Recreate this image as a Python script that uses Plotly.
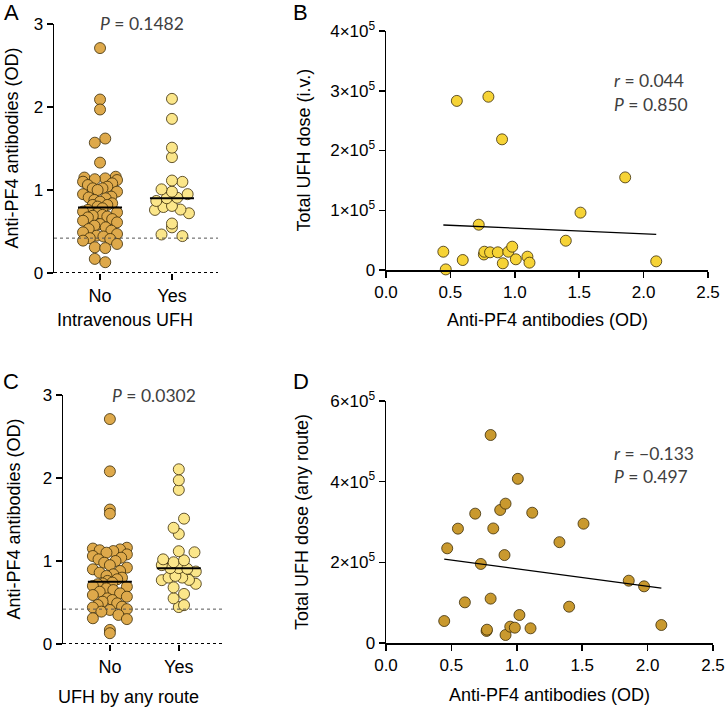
import numpy as np
import plotly.graph_objects as go

W, H = 727, 709

# ---------------- data ----------------
groups = ["No", "Yes"]

# Panel A: Intravenous UFH (No / Yes) anti-PF4 OD
od_no_iv = [2.71, 2.09, 1.97, 1.62, 1.57, 1.33,
            1.16, 1.15, 1.14, 1.13, 1.12, 1.10, 1.08, 1.06, 1.04, 1.02, 1.02, 1.00,
            0.98, 0.95, 0.92, 0.91, 0.90, 0.88, 0.86,
            0.84, 0.82, 0.82, 0.80, 0.78, 0.76, 0.74, 0.73, 0.72, 0.70,
            0.69, 0.68, 0.67, 0.65, 0.63, 0.61, 0.59, 0.57, 0.55,
            0.53, 0.51, 0.49, 0.47, 0.45, 0.44, 0.42, 0.41,
            0.39, 0.35, 0.31, 0.30, 0.17, 0.13]
od_yes_iv = [0.445, 0.464, 0.55, 0.596, 0.72, 0.76, 0.764, 0.795, 0.808, 0.868, 0.901,
             0.907, 0.95, 0.98, 1.008, 1.098, 1.114, 1.396, 1.51, 1.857, 2.098]
dose_iv = [30600, 1000, 283000, 16700, 75800, 26000, 30600, 290000, 29600, 29600, 218700,
           11200, 30600, 39000, 17900, 22300, 12300, 49000, 96000, 155000, 14500]

# Panel C: UFH by any route (No / Yes)
od_no_any = [2.71, 2.08, 1.62, 1.57,
             1.16, 1.15, 1.14, 1.13, 1.12, 1.10, 1.08, 1.06, 1.04, 1.02, 1.00,
             0.98, 0.95, 0.92, 0.90, 0.88, 0.86,
             0.84, 0.82, 0.80, 0.78, 0.76, 0.74, 0.73, 0.72, 0.70,
             0.69, 0.67, 0.65, 0.63, 0.61, 0.59, 0.57, 0.55,
             0.53, 0.51, 0.49, 0.47, 0.45, 0.44, 0.42, 0.41,
             0.39, 0.35, 0.31, 0.30, 0.17, 0.13]
od_yes_any = [0.445, 0.468, 0.55, 0.603, 0.682, 0.725, 0.769, 0.772, 0.80, 0.80, 0.82,
              0.873, 0.914, 0.906, 0.914, 0.95, 0.985, 1.008, 1.02, 1.105, 1.118,
              1.326, 1.40, 1.51, 1.856, 1.973, 2.105]
dose_any = [54500, 234800, 283500, 100800, 320700, 196000, 29800, 33000, 515700, 110000, 284000,
            329800, 345500, 218000, 19800, 40500, 38000, 407000, 69400, 36400, 323000,
            250000, 90000, 295800, 154500, 140500, 44600]

# linear fits (intercept, slope)
fit_iv = (79500, -9430)
fit_any = (227300, -43300)

threshold_od = 0.42
p_iv, p_any = "0.1482", "0.0302"
r_iv, rp_iv = "0.044", "0.850"
r_any, rp_any = "\u22120.133", "0.497"

dose_ticks_iv = [0, 1e5, 2e5, 3e5, 4e5]
dose_ticks_any = [0, 2e5, 4e5, 6e5]
od_ticks = [0.0, 0.5, 1.0, 1.5, 2.0, 2.5]

# ---------------- colours ----------------
c_no = "#DEA94B"
c_yes = "#FBE68A"
c_b = "#F6D336"
c_d = "#C9992E"
c_edge = "#3b2c08"
txt = "#404040"
FONT = "Liberation Sans"
SFONT = "Lato"

# ---------------- layout boxes (pixels) ----------------
boxA = (54, 218, 24, 273)
boxB = (386, 708, 31, 270)
boxC = (63, 225, 395, 644)
boxD = (386, 713, 401, 643)


def dom(box):
    x0, x1, y0, y1 = box
    return [x0 / W, x1 / W], [1 - y1 / H, 1 - y0 / H]


def swarm_offsets(vals, ppu_y, dia=11.0, maxhalf=17.0):
    v = np.asarray(vals, float)
    med = np.median(v)
    h = dia / ppu_y
    k = np.round((v - med) / h)
    off = np.zeros(len(v))
    for b in np.unique(k):
        idx = np.where(k == b)[0]
        idx = idx[np.argsort(np.abs(v[idx] - med), kind="stable")]
        n = len(idx)
        if n == 1:
            continue
        s = min(0.95 * dia, 2 * maxhalf / (n - 1))
        if n % 2:
            slots = [0.0] + [sg * j * s for j in range(1, n // 2 + 1) for sg in (-1, 1)]
        else:
            slots = [sg * (j + 0.5) * s for j in range(n // 2) for sg in (-1, 1)]
        off[idx] = slots[:n]
    return off


fig = go.Figure()

axis_common = dict(showline=True, linecolor="black", linewidth=1.5, ticks="outside",
                   ticklen=6, tickwidth=1.5, tickcolor="black", showgrid=False,
                   zeroline=False, tickfont=dict(family=FONT, size=17, color="black"),
                   fixedrange=True, automargin=False)


def dot_panel(box, xa, ya, no_vals, yes_vals, xr):
    x0, x1, y0, y1 = box
    ppu_x = (x1 - x0) / (xr[1] - xr[0])
    ppu_y = (y1 - y0) / 3.0
    for gi, (vals, col) in enumerate([(no_vals, c_no), (yes_vals, c_yes)]):
        off = swarm_offsets(vals, ppu_y)
        xs = gi + off / ppu_x
        fig.add_trace(go.Scatter(x=xs, y=vals, mode="markers", xaxis=xa, yaxis=ya,
                                 marker=dict(size=11, color=col,
                                             line=dict(color=c_edge, width=0.8)),
                                 cliponaxis=False, showlegend=False, hoverinfo="y"))
    for gi, vals in enumerate([no_vals, yes_vals]):
        m = float(np.median(vals))
        hw = 22 / ppu_x
        fig.add_trace(go.Scatter(x=[gi - hw, gi + hw], y=[m, m], mode="lines",
                                 xaxis=xa, yaxis=ya, line=dict(color="black", width=2),
                                 showlegend=False, hoverinfo="skip"))


def scatter_panel(xa, ya, od, dose, col, fit):
    fig.add_trace(go.Scatter(x=od, y=dose, mode="markers", xaxis=xa, yaxis=ya,
                             marker=dict(size=11, color=col, line=dict(color=c_edge, width=0.8)),
                             cliponaxis=False, showlegend=False))
    xl = [min(od), max(od)]
    yl = [fit[0] + fit[1] * x for x in xl]
    fig.add_trace(go.Scatter(x=xl, y=yl, mode="lines", xaxis=xa, yaxis=ya,
                             line=dict(color="black", width=1.3), showlegend=False,
                             hoverinfo="skip"))


xrA = [-0.64, 1.64]
xrC = [-0.68, 1.67]
dot_panel(boxA, "x", "y", od_no_iv, od_yes_iv, xrA)
scatter_panel("x2", "y2", od_yes_iv, dose_iv, c_b, fit_iv)
dot_panel(boxC, "x3", "y3", od_no_any, od_yes_any, xrC)
scatter_panel("x4", "y4", od_yes_any, dose_any, c_d, fit_any)


def sup_label(v):
    if v == 0:
        return "0"
    e = int(np.floor(np.log10(v)))
    m = int(round(v / 10 ** e))
    return f"{m}\u00d710<sup>{e}</sup>"


layout = dict(width=W, height=H, margin=dict(l=0, r=0, t=0, b=0, autoexpand=False),
              plot_bgcolor="white", paper_bgcolor="white", showlegend=False)

for i, (box, kind) in enumerate([(boxA, "dot"), (boxB, "sc"), (boxC, "dot"), (boxD, "sc")], start=1):
    dx, dy = dom(box)
    sx = "" if i == 1 else str(i)
    xa = dict(axis_common, domain=dx, anchor="y" + sx)
    ya = dict(axis_common, domain=dy, anchor="x" + sx)
    if kind == "dot":
        xa.update(range=xrA if i == 1 else xrC, tickvals=[0, 1], ticktext=groups, showline=False,
                  tickfont=dict(family=FONT, size=18, color="black"))
        ya.update(range=[0, 3], tickvals=[0, 1, 2, 3])
    else:
        ticks = dose_ticks_iv if i == 2 else dose_ticks_any
        xa.update(range=[0, 2.5], tickvals=od_ticks, ticktext=[f"{t:.1f}" for t in od_ticks])
        ya.update(range=[0, ticks[-1]], tickvals=ticks, ticktext=[sup_label(t) for t in ticks])
    layout["xaxis" + sx] = xa
    layout["yaxis" + sx] = ya

fig.update_layout(**layout)

# dotted baselines & threshold lines on dot panels
for xa, ya in [("x", "y"), ("x3", "y3")]:
    fig.add_shape(type="line", xref=f"{xa} domain", yref=ya, x0=0, x1=1, y0=0, y1=0,
                  line=dict(color="black", width=2, dash="dot"))
    fig.add_shape(type="line", xref=f"{xa} domain", yref=ya, x0=0, x1=1,
                  y0=threshold_od, y1=threshold_od,
                  line=dict(color="#555555", width=1, dash="dot"))


def ann(text, x, y, size=18, family=FONT, color="black", angle=0, xanchor="center", yanchor="middle"):
    fig.add_annotation(text=text, x=x / W, y=1 - y / H, xref="paper", yref="paper",
                       showarrow=False, font=dict(family=family, size=size, color=color),
                       textangle=angle, xanchor=xanchor, yanchor=yanchor)


# panel letters
ann("A", 11, 13, size=22)
ann("B", 300, 13, size=22)
ann("C", 11, 381, size=22)
ann("D", 301, 381, size=22)

# axis titles
ann("Anti-PF4 antibodies (OD)", 11, (boxA[2] + boxA[3]) / 2, angle=-90)
ann("Intravenous UFH", 125, 320)
ann("Total UFH dose (i.v.)", 303, (boxB[2] + boxB[3]) / 2, angle=-90)
ann("Anti-PF4 antibodies (OD)", (boxB[0] + boxB[1]) / 2, 320)
ann("Anti-PF4 antibodies (OD)", 13, (boxC[2] + boxC[3]) / 2, angle=-90)
ann("UFH by any route", 128, 697)
ann("Total UFH dose (any route)", 302, (boxD[2] + boxD[3]) / 2, angle=-90)
ann("Anti-PF4 antibodies (OD)", (boxD[0] + boxD[1]) / 2, 695)

# statistics text
SS = 17.5
ann(f"<i>P</i> = {p_iv}", 98, 24, size=SS, family=SFONT, color=txt, xanchor="left")
ann(f"<i>P</i> = {p_any}", 110, 395, size=SS, family=SFONT, color=txt, xanchor="left")
ann(f"<i>r</i> = {r_iv}", 612, 80, size=SS, family=SFONT, color=txt, xanchor="left")
ann(f"<i>P</i> = {rp_iv}", 612, 104, size=SS, family=SFONT, color=txt, xanchor="left")
ann(f"<i>r</i> = {r_any}", 612, 453, size=SS, family=SFONT, color=txt, xanchor="left")
ann(f"<i>P</i> = {rp_any}", 612, 477, size=SS, family=SFONT, color=txt, xanchor="left")

fig.write_html("out.html",
               config={"displayModeBar": False, "staticPlot": True},
               post_script="document.documentElement.style.margin='0';"
                           "document.body.style.margin='0';"
                           "document.body.style.padding='0';"
                           "document.body.style.overflow='hidden';"
                           "document.documentElement.style.overflow='hidden';")
